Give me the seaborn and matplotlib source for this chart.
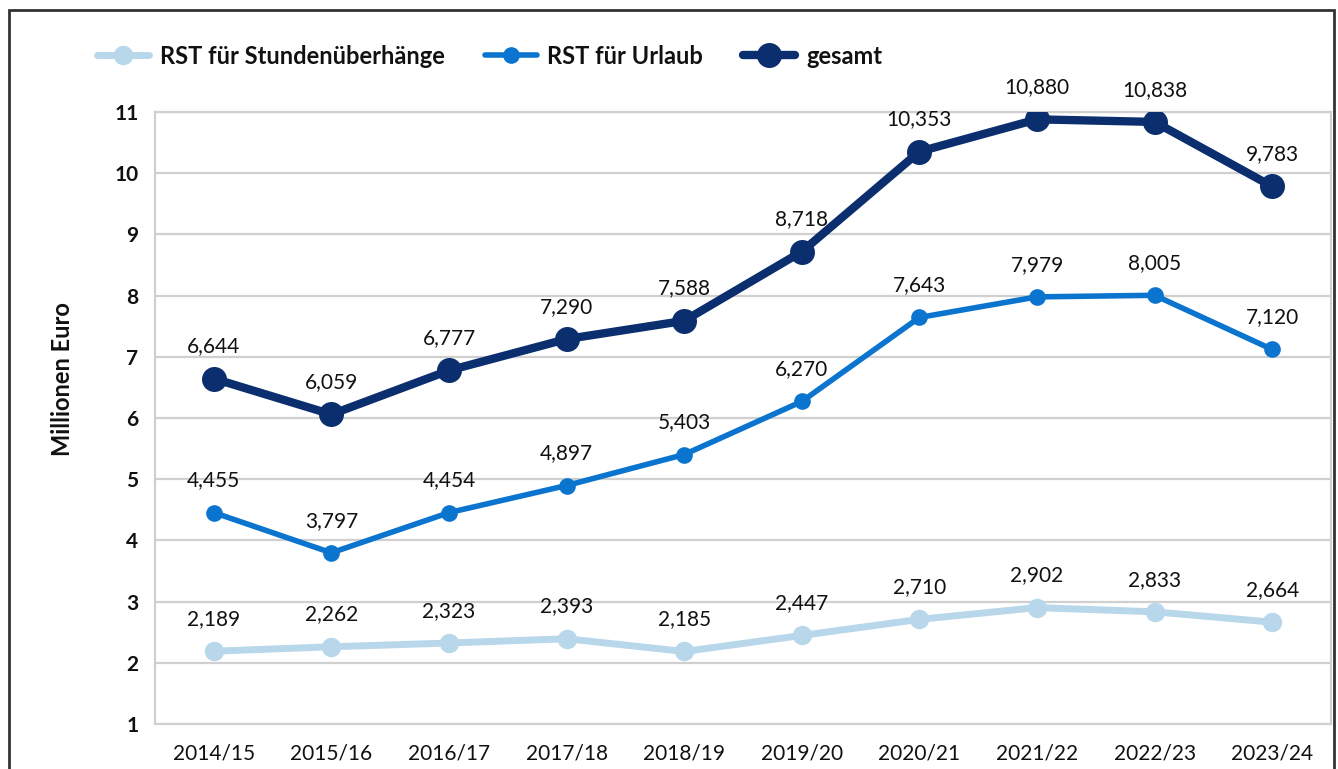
import matplotlib
matplotlib.use("Agg")
import matplotlib.pyplot as plt
import seaborn as sns
import pandas as pd
from matplotlib.patches import Rectangle

years = ["2014/15", "2015/16", "2016/17", "2017/18", "2018/19",
         "2019/20", "2020/21", "2021/22", "2022/23", "2023/24"]
stunden = [2.189, 2.262, 2.323, 2.393, 2.185, 2.447, 2.710, 2.902, 2.833, 2.664]
urlaub = [4.455, 3.797, 4.454, 4.897, 5.403, 6.270, 7.643, 7.979, 8.005, 7.120]
gesamt = [6.644, 6.059, 6.777, 7.290, 7.588, 8.718, 10.353, 10.880, 10.838, 9.783]

series_names = ["RST für Stundenüberhänge", "RST für Urlaub", "gesamt"]
series_values = [stunden, urlaub, gesamt]
colors = ["#B8D7EA", "#0A74CE", "#0B2E6E"]
lws = [5, 4, 6]
mss = [14, 12, 18]

sns.set_theme(style="white")
plt.rcParams["font.family"] = ["Lato", "DejaVu Sans"]

fig = plt.figure(figsize=(13.38, 7.69), dpi=100)
ax = fig.add_axes([155/1338, 1-724/769, (1331-155)/1338, (724-112)/769])

for name, vals, c, lw, ms in zip(series_names, series_values, colors, lws, mss):
    df = pd.DataFrame({"Jahr": years, "Wert": vals})
    sns.lineplot(data=df, x="Jahr", y="Wert", ax=ax, color=c, linewidth=lw,
                 marker="o", markersize=ms, markeredgewidth=0, label=name,
                 solid_capstyle="round", zorder=3)
    for i, v in enumerate(vals):
        ax.annotate(f"{v:,.3f}".replace(".", ","), (i, v), xytext=(0, 16),
                    textcoords="offset points", ha="center", va="bottom",
                    fontsize=15, color="#111111")

ax.set_xlim(-0.5, 9.5)
ax.set_ylim(1, 11)
ax.set_yticks(range(1, 12))
ax.yaxis.grid(True, color="#D0D0D0", linewidth=1.6)
ax.xaxis.grid(False)
ax.set_axisbelow(True)
for s in ax.spines.values():
    s.set_color("#D0D0D0")
    s.set_linewidth(1.6)
ax.tick_params(axis="both", length=0)
ax.tick_params(axis="x", labelsize=15, pad=14, colors="#111111")
ax.tick_params(axis="y", labelsize=15, pad=12, colors="#111111")
for t in ax.get_yticklabels():
    t.set_fontweight("bold")
ax.set_xlabel("")
ax.set_ylabel("Millionen Euro", fontsize=17, fontweight="bold", color="#111111")
ax.yaxis.set_label_coords(-0.079, 0.564)
ax.yaxis.label.set_va("center")

h, l = ax.get_legend_handles_labels()
ax.get_legend().remove()
leg = fig.legend(h, l, loc="center left", bbox_to_anchor=(76/1338, 1-56/769), ncol=3,
                 frameon=False, handlelength=2.2, handletextpad=0.45, columnspacing=1.7,
                 prop={"size": 17, "weight": "bold"})
for t in leg.get_texts():
    t.set_color("#111111")

fig.patches.append(Rectangle((9/1338, -0.1), (1334-9)/1338, 1-10/769+0.1,
                             transform=fig.transFigure, fill=False,
                             edgecolor="#333333", linewidth=2))

fig.savefig("out.png", dpi=100)
